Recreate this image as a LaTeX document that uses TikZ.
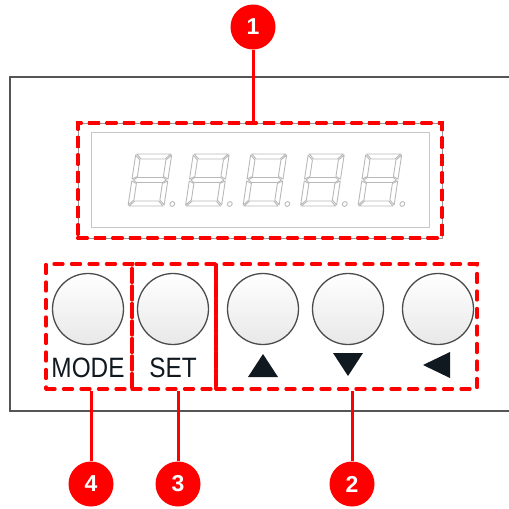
\documentclass[tikz,border=0pt]{standalone}
\usepackage{fontspec}
\setmainfont{Liberation Sans}
\usetikzlibrary{positioning}
\definecolor{MarkRed}{HTML}{FF0000}
\definecolor{PanelGray}{HTML}{555555}
\definecolor{SegGray}{HTML}{B8B8B8}
\definecolor{KeyInk}{HTML}{101820}

\begin{document}
\begin{tikzpicture}[x=1pt,y=-1pt,
  zone/.style={draw=MarkRed,line width=3.3pt,line cap=round,dash pattern=on 9pt off 8.5pt,inner sep=0pt},
  key/.style={circle,draw=PanelGray!90!black,line width=1.3pt,minimum size=71pt,top color=white,bottom color=black!9},
  keylabel/.style={anchor=base,text=KeyInk,font=\fontsize{28}{28}\selectfont},
  tag/.style={circle,fill=MarkRed,text=white,minimum size=45pt,inner sep=0pt,font=\fontsize{23}{23}\selectfont\bfseries},
  lead/.style={MarkRed,line width=3pt}]
  \useasboundingbox (0,0) rectangle (509,509);
  \def\digit#1{
    \begin{scope}[shift={(#1,206)},xslant=0.15,SegGray,line width=0.9pt,line join=round]
      \draw (1,-52) -- (35,-52) -- (30,-47) -- (6,-47) -- cycle;
      \draw (1,0) -- (35,0) -- (30,-5) -- (6,-5) -- cycle;
      \draw (1.5,-26) -- (5,-28.5) -- (31,-28.5) -- (34.5,-26) -- (31,-23.5) -- (5,-23.5) -- cycle;
      \foreach \s in {1,-1}{
        \begin{scope}[shift={(18,0)},xscale=\s]
          \draw (-18,-51) -- (-13,-46) -- (-13,-29.5) -- (-18,-27) -- cycle;
          \draw (-18,-1) -- (-13,-6) -- (-13,-22.5) -- (-18,-25) -- cycle;
        \end{scope}}
      \draw (44,-2) circle (2.4pt);
    \end{scope}}
  % panel
  \draw[PanelGray,line width=2pt] (515,77) -- (10,77) -- (10,411) -- (515,411);
  % display
  \draw[PanelGray!60,line width=0.6pt] (78,123) rectangle (442,238);
  \draw[SegGray!80,line width=1pt] (91,132) rectangle (429,227);
  \foreach \x in {128,185.5,243,300.5,358}
    \digit{\x}
  \node[zone,minimum width=364pt,minimum height=115pt] (disp) at (260,180.5) {};
  % keys
  \foreach \name/\x in {kmode/88,kset/173,kup/263,kdown/348,kleft/438}
    \node[key] (\name) at (\x,309) {};
  \node[keylabel] (lmode) at (88,377) {\scalebox{0.87}[1]{MODE}};
  \node[keylabel] (lset) at (173,377) {\scalebox{0.87}[1]{SET}};
  \fill[KeyInk] (263,354) -- (278,377) -- (248,377) -- cycle;
  \fill[KeyInk] (333,353) -- (363,353) -- (348,376) -- cycle;
  \fill[KeyInk] (423,365) -- (450,352) -- (450,378) -- cycle;
  % groups
  \node[zone,minimum width=86pt,minimum height=125pt] (gmode) at (89,326.5) {};
  \node[zone,minimum width=84pt,minimum height=125pt] (gset) at (174,326.5) {};
  \node[zone,minimum width=261pt,minimum height=125pt] (garrow) at (346.5,326.5) {};
  % callouts
  \node[tag] (c1) at (253,27) {1};
  \node[tag] (c2) at (352,484) {2};
  \node[tag] (c3) at (178,484) {3};
  \node[tag] (c4) at (91,484) {4};
  \draw[lead] (c1) -- (c1 |- disp.north);
  \draw[lead] (c2) -- (c2 |- garrow.south);
  \draw[lead] (c3) -- (c3 |- gset.south);
  \draw[lead] (c4) -- (c4 |- gmode.south);
\end{tikzpicture}
\end{document}
